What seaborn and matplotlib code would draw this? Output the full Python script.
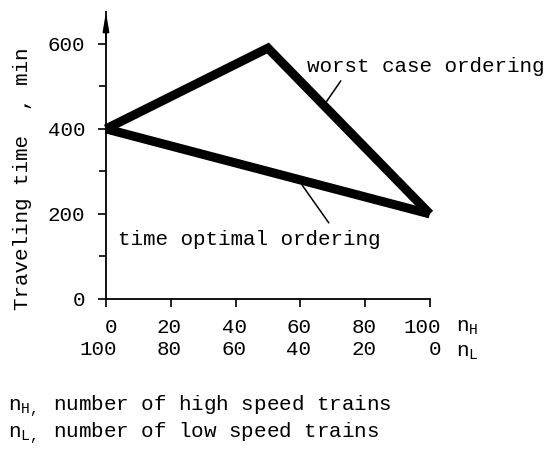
import matplotlib
matplotlib.use("Agg")
import matplotlib.pyplot as plt
import matplotlib.transforms as mtransforms
import seaborn as sns
import pandas as pd

# Traveling time vs. fleet mix
n_high_worst = [0, 50, 100]
time_worst = [400, 590, 200]
n_high_opt = [0, 100]
time_opt = [400, 200]

nh_ticks = [0, 20, 40, 60, 80, 100]
nl_ticks = [100, 80, 60, 40, 20, 0]
y_major = [0, 200, 400, 600]
y_minor = [100, 300, 500]

sns.set_theme(style="ticks")
FS = 15
plt.rcParams["font.family"] = ["Liberation Mono", "DejaVu Sans Mono"]
plt.rcParams["mathtext.fontset"] = "custom"
plt.rcParams["mathtext.rm"] = "Liberation Mono"
plt.rcParams["mathtext.it"] = "Liberation Mono"
plt.rcParams["mathtext.bf"] = "Liberation Mono:bold"
plt.rcParams["text.color"] = "black"
plt.rcParams["axes.labelcolor"] = "black"
plt.rcParams["xtick.color"] = "black"
plt.rcParams["ytick.color"] = "black"

df = pd.concat([
    pd.DataFrame({"nH": n_high_worst, "time": time_worst, "ordering": "worst"}),
    pd.DataFrame({"nH": n_high_opt, "time": time_opt, "ordering": "optimal"}),
])

fig = plt.figure(figsize=(5.49, 4.5), dpi=100)
ax = fig.add_axes([0.193, 0.3356, 0.590, 0.6378])

sns.lineplot(data=df, x="nH", y="time", hue="ordering", sort=False,
             palette=["black", "black"], linewidth=6.5, legend=False, ax=ax)
for ln in ax.lines:
    ln.set_solid_joinstyle("miter")
    ln.set_solid_capstyle("butt")
    ln.set_clip_on(False)

ax.set_xlim(0, 100)
ax.set_ylim(0, 675)
sns.despine(ax=ax)
for side in ("left", "bottom"):
    ax.spines[side].set_color("black")
    ax.spines[side].set_linewidth(1.3)

# arrow head on the vertical axis
ax.annotate("", xy=(0, 1), xycoords="axes fraction", xytext=(0, 0.9),
            textcoords="axes fraction",
            arrowprops=dict(arrowstyle="-|>,head_length=0.9,head_width=0.15",
                            color="black", lw=1.3, shrinkA=0, shrinkB=0))

ax.set_yticks(y_major)
ax.set_yticks(y_minor, minor=True)
ax.set_yticklabels([str(v) for v in y_major], fontsize=FS)
ax.tick_params(axis="y", which="both", direction="out", length=6, width=1.2, pad=9)
ax.tick_params(axis="y", which="minor", length=5)

ax.set_xticks(nh_ticks)
ax.set_xticklabels([f"{h}\n{l}" for h, l in zip(nh_ticks, nl_ticks)], fontsize=FS)
ax.tick_params(axis="x", direction="out", length=6, width=1.2, pad=8)
offset = mtransforms.ScaledTranslation(8 / 72, 0, fig.dpi_scale_trans)
for lab in ax.get_xticklabels():
    lab.set_horizontalalignment("right")
    lab.set_multialignment("right")
    lab.set_transform(lab.get_transform() + offset)

ax.set_xlabel("")
ax.set_ylabel("Traveling time  , min", fontsize=FS)
ax.yaxis.set_label_coords(-0.228, 0.42)

bx = ax.get_xaxis_transform()
ax.text(108, -0.10, r"$\mathregular{n_H}$", transform=bx, fontsize=FS,
        ha="left", va="center")
ax.text(108, -0.185, r"$\mathregular{n_L}$", transform=bx, fontsize=FS,
        ha="left", va="center")

# curve annotations
ax.text(62, 546, "worst case ordering", fontsize=FS, ha="left", va="center",
        clip_on=False)
ax.plot([72.5, 67.6], [513, 459], color="black", lw=1.1, clip_on=False)
ax.text(3.7, 141, "time optimal ordering", fontsize=FS, ha="left", va="center")
ax.plot([59.9, 68.8], [275, 179], color="black", lw=1.1, clip_on=False)

# legend of symbols below the chart
fig.text(8 / 549, 1 - 406 / 450, r"$\mathregular{n_{H,}}$ number of high speed trains",
         fontsize=FS, ha="left", va="center")
fig.text(8 / 549, 1 - 433 / 450, r"$\mathregular{n_{L,}}$ number of low speed trains",
         fontsize=FS, ha="left", va="center")

fig.savefig("out.png", dpi=100, facecolor="white")
